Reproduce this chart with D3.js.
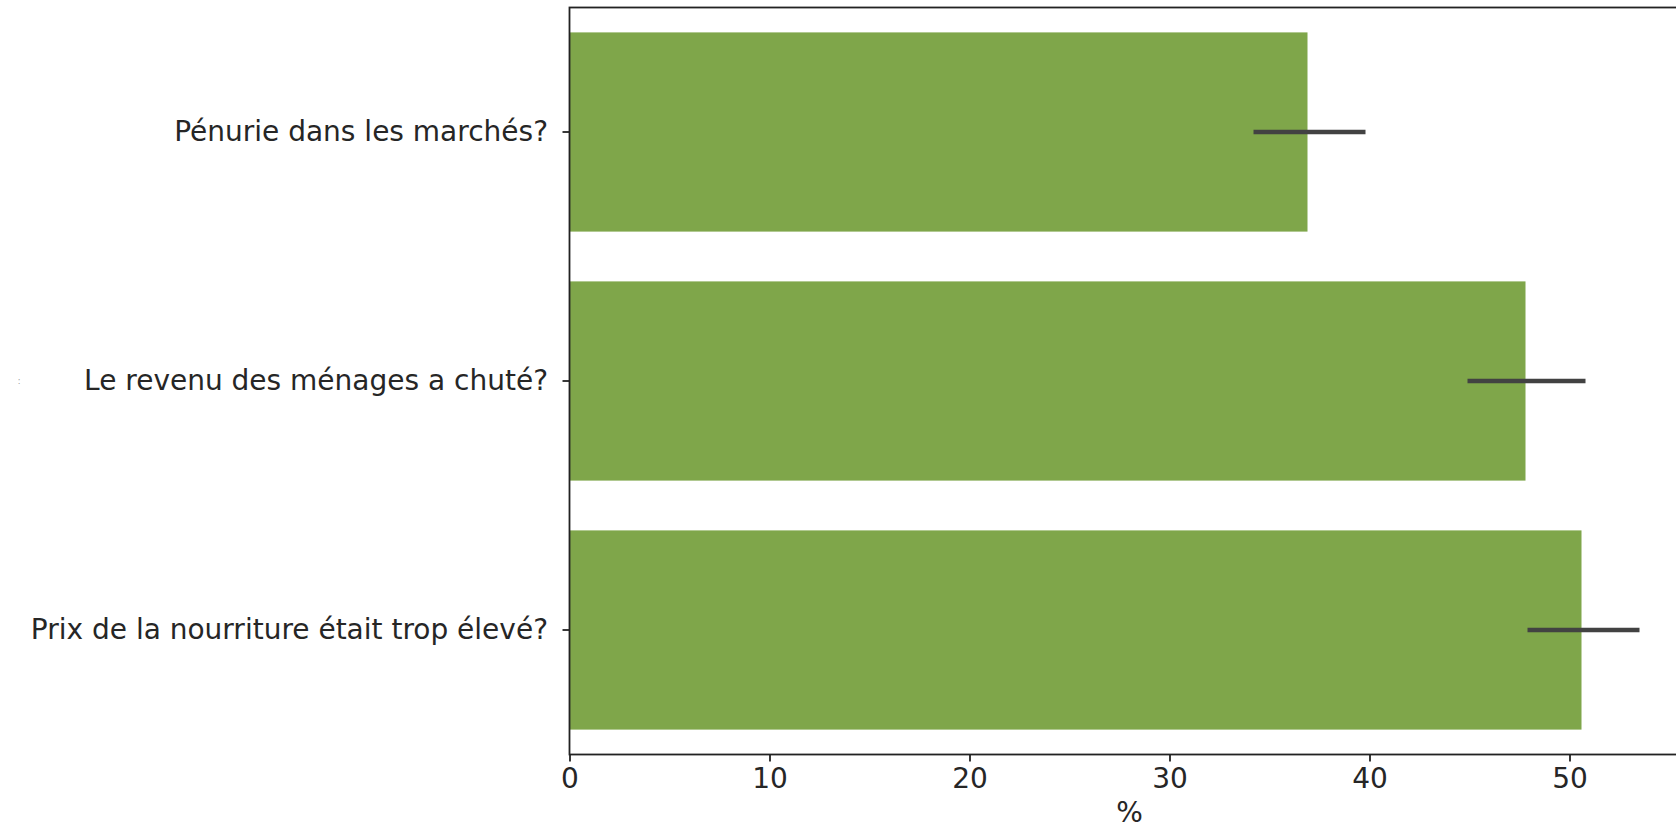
<!DOCTYPE html>
<html>
<head>
<meta charset="utf-8">
<script src="https://cdn.jsdelivr.net/npm/d3@7"></script>
<style>
  html, body { margin: 0; padding: 0; background: #fff; overflow: hidden; }
  svg { display: block; }
  text { font-family: "DejaVu Sans", sans-serif; fill: #262626; }
</style>
</head>
<body>
<svg id="chart" width="1676" height="829"></svg>
<script>
// ---- data ----
const categories = [
  "Pénurie dans les marchés?",
  "Le revenu des ménages a chuté?",
  "Prix de la nourriture était trop élevé?"
];
const values   = [36.9, 47.8, 50.6];
const errLow   = [34.2, 44.9, 47.9];
const errHigh  = [39.8, 50.8, 53.5];
const xTicks   = [0, 10, 20, 30, 40, 50];
const xLabel   = "%";

// ---- layout ----
const plotLeft = 569.5, plotTop = 7.5, plotBottom = 754.5;
const xMax = 56.0;
const pxPerUnit = 20;
const plotRight = plotLeft + xMax * pxPerUnit;

const svg = d3.select("#chart");

const x = d3.scaleLinear().domain([0, xMax]).range([plotLeft, plotRight]);
const y = d3.scaleBand().domain(categories).range([plotTop, plotBottom])
  .paddingInner(0.2).paddingOuter(0.1);

// bars
svg.append("g").selectAll("rect").data(categories).join("rect")
  .attr("x", x(0))
  .attr("y", d => y(d))
  .attr("width", (d, i) => x(values[i]) - x(0))
  .attr("height", y.bandwidth())
  .attr("fill", "#7fa64a");

// error bars
svg.append("g").selectAll("line").data(categories).join("line")
  .attr("x1", (d, i) => x(errLow[i]))
  .attr("x2", (d, i) => x(errHigh[i]))
  .attr("y1", d => y(d) + y.bandwidth() / 2)
  .attr("y2", d => y(d) + y.bandwidth() / 2)
  .attr("stroke", "#424242")
  .attr("stroke-width", 4.5);

// frame (spines)
svg.append("rect")
  .attr("x", plotLeft).attr("y", plotTop)
  .attr("width", plotRight - plotLeft).attr("height", plotBottom - plotTop)
  .attr("fill", "none").attr("stroke", "#222").attr("stroke-width", 1.8);

// x axis
const xAxis = d3.axisBottom(x).tickValues(xTicks).tickSize(7).tickPadding(7)
  .tickFormat(d3.format("d"));
const gx = svg.append("g").attr("transform", `translate(0,${plotBottom})`).call(xAxis);
gx.select(".domain").remove();
gx.selectAll(".tick line").attr("stroke", "#222").attr("stroke-width", 1.8);
gx.selectAll(".tick text").attr("font-size", 28)
  .attr("font-family", "DejaVu Sans").attr("fill", "#262626");

// y axis
const yAxis = d3.axisLeft(y).tickSize(7).tickPadding(14.5);
const gy = svg.append("g").attr("transform", `translate(${plotLeft},0)`).call(yAxis);
gy.select(".domain").remove();
gy.selectAll(".tick line").attr("stroke", "#222").attr("stroke-width", 1.8);
gy.selectAll(".tick text").attr("font-size", 28)
  .attr("font-family", "DejaVu Sans").attr("fill", "#262626");

// x label
svg.append("text")
  .attr("x", (plotLeft + plotRight) / 2)
  .attr("y", 822)
  .attr("text-anchor", "middle")
  .attr("font-size", 28)
  .text(xLabel);

// small stray mark at the left edge in the original image
svg.append("text")
  .attr("x", 19).attr("y", 384)
  .attr("text-anchor", "middle")
  .attr("font-size", 8)
  .style("fill", "#999")
  .text(":");
</script>
</body>
</html>
